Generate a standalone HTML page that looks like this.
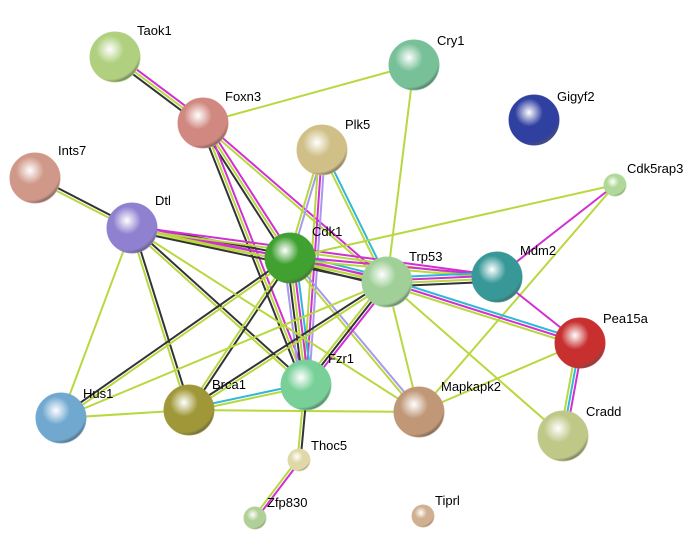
<!DOCTYPE html>
<html><head><meta charset="utf-8"><style>
html,body{margin:0;padding:0;background:#fff;width:700px;height:547px;overflow:hidden}
svg text{font-family:"Liberation Sans",sans-serif;font-size:13px;fill:#000}
</style></head><body>
<svg id="s" width="700" height="547" xmlns="http://www.w3.org/2000/svg">
<g id="edges"></g>
<g id="nodes"></g>
<g>
<text x="137" y="35">Taok1</text>
<text x="437" y="45">Cry1</text>
<text x="225" y="101">Foxn3</text>
<text x="557" y="101">Gigyf2</text>
<text x="345" y="129">Plk5</text>
<text x="58" y="155">Ints7</text>
<text x="627" y="173">Cdk5rap3</text>
<text x="155" y="205">Dtl</text>
<text x="312" y="236">Cdk1</text>
<text x="409" y="261">Trp53</text>
<text x="520" y="255">Mdm2</text>
<text x="603" y="323">Pea15a</text>
<text x="83" y="398">Hus1</text>
<text x="212" y="389">Brca1</text>
<text x="328" y="363">Fzr1</text>
<text x="441" y="391">Mapkapk2</text>
<text x="586" y="416">Cradd</text>
<text x="311" y="450">Thoc5</text>
<text x="267" y="507">Zfp830</text>
<text x="435" y="505">Tiprl</text>
</g>
</svg>
<script>
var N={Taok1:[115,57,25,'#b0d080'],Cry1:[414,65,25,'#78c098'],Foxn3:[203,123,25,'#d08880'],Gigyf2:[534,120,25,'#3040a0'],
Plk5:[322,150,25,'#d0c088'],Ints7:[35,178,25,'#d09888'],Cdk5rap3:[615,185,11,'#b0d898'],Dtl:[132,228,25,'#9080d0'],
Cdk1:[290,258,25,'#40a030'],Trp53:[387,282,25,'#a0d098'],Mdm2:[497,277,25,'#389898'],Pea15a:[580,343,25,'#c83030'],
Hus1:[61,418,25,'#70a8d0'],Brca1:[189,410,25,'#a09838'],Fzr1:[306,385,25,'#78d098'],Mapkapk2:[419,412,25,'#c09878'],
Cradd:[563,436,25,'#c0c888'],Thoc5:[299,460,11,'#e0d8a8'],Zfp830:[255,518,11,'#b0d098'],Tiprl:[423,516,11,'#d0b090']};
var C={g:'#b8d840',k:'#333',m:'#d030d0',c:'#30b8d8',l:'#a898f0'};
var E=[['Taok1','Foxn3','mgk'],['Foxn3','Cry1','g'],['Foxn3','Cdk1','mgk'],['Foxn3','Fzr1','mgk'],['Foxn3','Trp53','mg'],
['Cry1','Trp53','g'],['Plk5','Cdk1','lg'],['Plk5','Fzr1','lmg'],['Plk5','Trp53','cg'],['Ints7','Dtl','kg'],
['Dtl','Cdk1','kmg'],['Dtl','Trp53','mgk'],['Dtl','Mdm2','mg'],['Dtl','Hus1','g'],['Dtl','Brca1','kg'],['Dtl','Fzr1','kg'],
['Cdk1','Trp53','cmgk'],['Cdk1','Fzr1','cmgkl'],['Cdk1','Mdm2','mg'],['Cdk1','Hus1','gk'],['Cdk1','Brca1','kg'],
['Cdk1','Mapkapk2','lg'],['Cdk5rap3','Cdk1','g'],['Cdk5rap3','Mdm2','m'],['Cdk5rap3','Mapkapk2','g'],
['Trp53','Mdm2','cmgk'],['Trp53','Pea15a','cmg'],['Trp53','Fzr1','mkg'],['Trp53','Brca1','gk'],['Trp53','Hus1','g'],
['Trp53','Mapkapk2','g'],['Trp53','Cradd','g'],['Mdm2','Pea15a','m'],['Pea15a','Cradd','mcg'],['Pea15a','Mapkapk2','g'],
['Brca1','Fzr1','cg'],['Brca1','Hus1','g'],['Brca1','Mapkapk2','g'],['Fzr1','Thoc5','kg'],['Thoc5','Zfp830','mg'],['Dtl','Mapkapk2','g']];
var ns='http://www.w3.org/2000/svg',eg=document.getElementById('edges'),ng=document.getElementById('nodes');
E.forEach(function(e){var a=N[e[0]],b=N[e[1]],dx=b[0]-a[0],dy=b[1]-a[1],L=Math.hypot(dx,dy),px=-dy/L,py=dx/L,n=e[2].length;
for(var i=0;i<n;i++){var o=(i-(n-1)/2)*3,l=document.createElementNS(ns,'line');
l.setAttribute('x1',a[0]+px*o);l.setAttribute('y1',a[1]+py*o);l.setAttribute('x2',b[0]+px*o);l.setAttribute('y2',b[1]+py*o);
l.setAttribute('stroke',C[e[2][i]]);l.setAttribute('stroke-width',2);eg.appendChild(l);}});
var defs=document.createElementNS(ns,'defs');document.getElementById('s').appendChild(defs);var k=0;
for(var name in N){var d=N[name];k++;
var g=document.createElementNS(ns,'radialGradient');g.setAttribute('id','g'+k);g.setAttribute('cx','0.4');g.setAttribute('cy','0.35');g.setAttribute('r','0.7');
g.innerHTML='<stop offset="0" stop-color="#fff"/><stop offset="0.4" stop-color="'+d[3]+'"/><stop offset="0.85" stop-color="'+d[3]+'"/><stop offset="1" stop-color="#555"/>';
defs.appendChild(g);
var c=document.createElementNS(ns,'circle');c.setAttribute('cx',d[0]);c.setAttribute('cy',d[1]);c.setAttribute('r',d[2]);
c.setAttribute('fill','url(#g'+k+')');c.setAttribute('stroke',d[3]);c.setAttribute('stroke-width',1);c.setAttribute('stroke-opacity',0.9);ng.appendChild(c);}
</script>
</body></html>
